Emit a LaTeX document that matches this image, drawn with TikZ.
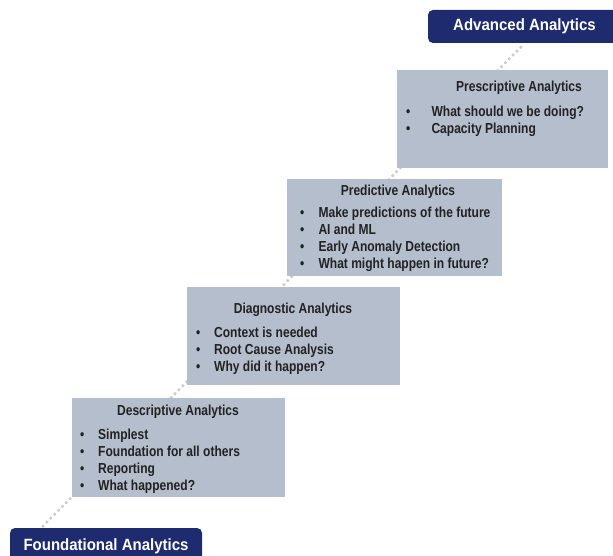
\documentclass[tikz,border=0pt]{standalone}
\usepackage{fontspec}
\setmainfont{Liberation Sans}[FakeStretch=0.92]
\newfontfamily\narrowfont{Liberation Sans}[FakeStretch=0.83]
\usetikzlibrary{positioning}
\definecolor{stagefill}{HTML}{B5BECC}
\definecolor{bannerblue}{HTML}{1E2B6E}
\definecolor{dotgray}{HTML}{CCCCCC}
\definecolor{inkgray}{HTML}{222222}
\newcommand{\bul}[1][18pt]{\makebox[#1][l]{\textbullet}}
\begin{document}
\begin{tikzpicture}[x=1pt,y=-1pt,
  stage/.style={rectangle, fill=stagefill, anchor=north west, inner sep=0pt},
  banner/.style={rectangle, rounded corners=5pt, fill=bannerblue, text=white, inner sep=0pt, font=\bfseries\fontsize{16.3}{19}\selectfont},
  head/.style={inner sep=0pt, text=inkgray, font=\narrowfont\bfseries\fontsize{14.5}{15}\selectfont},
  items/.style={anchor=north west, align=left, inner sep=0pt, text=inkgray, font=\narrowfont\bfseries\fontsize{14.5}{17}\selectfont},
  beads/.style={draw=dotgray, line width=3.5pt, line cap=round, dash pattern=on 0pt off 5.5pt}]
\clip (0,0) rectangle (613,556);
\fill [white] (0,0) rectangle (613,556);
% path of the stairs
\coordinate (low) at (43,526);
\coordinate (high) at (524,44);
\draw [beads] (low) -- (high);
% banners
\node [banner, minimum width=193pt, minimum height=33pt] (advanced) at (524.5,26.5) {Advanced Analytics};
\node [banner, minimum width=192pt, minimum height=36pt] (foundational) at (106,546) {Foundational Analytics};
% descriptive
\node [stage, minimum width=213pt, minimum height=99pt] (descbox) at (72,398) {};
\node [head] (desctitle) at (178,412) {Descriptive Analytics};
\node [items] (descitems) at (80,429) {\bul Simplest\\ \bul Foundation for all others\\ \bul Reporting\\ \bul What happened?};
% diagnostic
\node [stage, minimum width=213pt, minimum height=98pt] (diagbox) at (187,287) {};
\node [head] (diagtitle) at (293,310) {Diagnostic Analytics};
\node [items] (diagitems) at (196,327) {\bul Context is needed\\ \bul Root Cause Analysis\\ \bul Why did it happen?};
% predictive
\node [stage, minimum width=215pt, minimum height=97pt] (predbox) at (287,179) {};
\node [head] (predtitle) at (398,192) {Predictive Analytics};
\node [items] (preditems) at (300,207) {\bul[15pt] Make predictions of the future\\ \bul[15pt] AI and ML\\ \bul[15pt] Early Anomaly Detection\\ \bul[15pt] What might happen in future?};
% prescriptive
\node [stage, minimum width=211pt, minimum height=98pt] (prescbox) at (397,70) {};
\node [head] (presctitle) at (519,88) {Prescriptive Analytics};
\node [items] (prescitems) at (406,106) {\bul[22pt] What should we be doing?\\ \bul[22pt] Capacity Planning};
\end{tikzpicture}
\end{document}
